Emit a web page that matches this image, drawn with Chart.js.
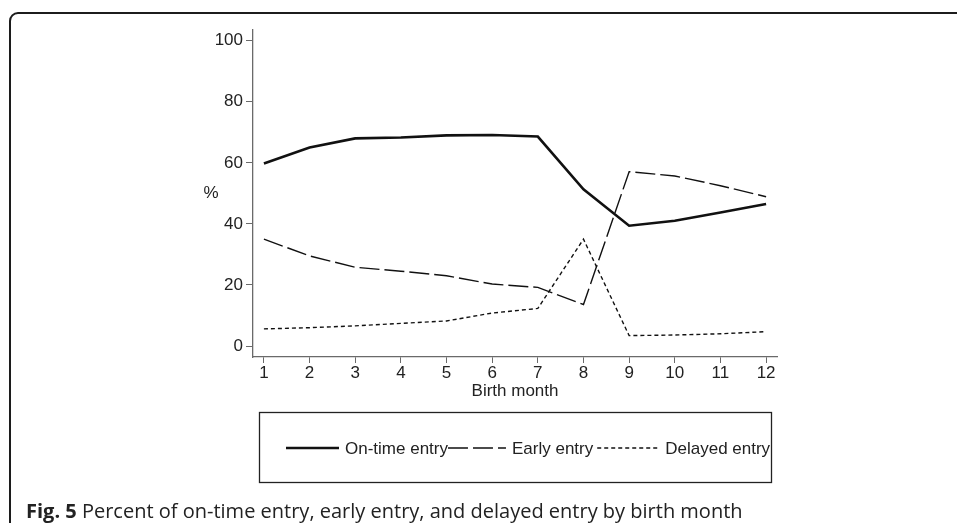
<!DOCTYPE html>
<html>
<head>
<meta charset="utf-8">
<script src="https://cdn.jsdelivr.net/npm/chart.js@4.4.1/dist/chart.umd.min.js"></script>
<style>
  html, body { margin: 0; padding: 0; background: #fff; }
  #wrap { position: relative; width: 957px; height: 523px; overflow: hidden; }
  #frame {
    position: absolute; left: 9px; top: 12px; width: 980px; height: 600px;
    border: 2px solid #1c1c1c; border-top-left-radius: 9px; box-sizing: border-box;
  }
  #holder { position: absolute; left: 0; top: 0; width: 957px; height: 523px; }
  #caption {
    position: absolute; left: 26px; top: 497px; margin: 0; line-height: 27px;
    font-family: "Open Sans", sans-serif; font-size: 20px; color: #222; white-space: nowrap;
  }
  #caption b { font-weight: 700; }
</style>
</head>
<body>
<div id="wrap">
  <div id="frame"></div>
  <div id="holder"><canvas id="fig5"></canvas></div>
  <p id="caption"><b>Fig. 5</b> Percent of on-time entry, early entry, and delayed entry by birth month</p>
</div>
<script>
// birth month on x, percent on y
const months = [1, 2, 3, 4, 5, 6, 7, 8, 9, 10, 11, 12];
const onTime = [59.8, 65.0, 68.0, 68.3, 69.0, 69.1, 68.6, 51.3, 39.4, 41.0, 43.7, 46.5];
const early = [35.0, 29.5, 25.8, 24.5, 23.0, 20.3, 19.2, 13.6, 57.1, 55.7, 52.5, 48.9];
const delayed = [5.6, 6.0, 6.6, 7.4, 8.2, 10.8, 12.3, 35.0, 3.4, 3.6, 4.0, 4.7];
const yTicks = [0, 20, 40, 60, 80, 100];
const seriesNames = ['On-time entry', 'Early entry', 'Delayed entry'];

const pts = arr => arr.map((v, i) => ({ x: months[i], y: v }));
const ink = '#111';
const axisGray = '#6a6a6a';
const tickFont = { family: 'Liberation Sans, Arial, sans-serif', size: 17 };

// legend in a box under the plot, plus the "%" axis label
const boxLegend = {
  id: 'boxLegend',
  afterDraw(chart) {
    const ctx = chart.ctx;
    const area = chart.chartArea;
    ctx.save();
    // y axis label
    ctx.font = '17px Liberation Sans, Arial, sans-serif';
    ctx.fillStyle = '#222';
    ctx.textAlign = 'center';
    ctx.textBaseline = 'middle';
    ctx.fillText('%', 211, (area.top + area.bottom) / 2);

    ctx.strokeStyle = '#222';
    ctx.lineWidth = 1.3;
    ctx.strokeRect(259.5, 412.5, 512, 70);

    const lineLens = [53, 58, 62];
    let x = 286;
    const y = 448;
    chart.data.datasets.forEach((ds, i) => {
      ctx.beginPath();
      ctx.setLineDash(ds.borderDash || []);
      ctx.lineWidth = ds.borderWidth;
      ctx.strokeStyle = ds.borderColor;
      ctx.moveTo(x, y);
      ctx.lineTo(x + lineLens[i], y);
      ctx.stroke();
      ctx.setLineDash([]);
      x += lineLens[i] + 6;
      ctx.textAlign = 'left';
      ctx.fillStyle = '#222';
      ctx.fillText(ds.label, x, y + 1);
      x += ctx.measureText(ds.label).width + (i === 0 ? 0 : 4);
    });
    ctx.restore();
  }
};

new Chart(document.getElementById('fig5'), {
  type: 'line',
  data: {
    datasets: [
      { label: seriesNames[0], data: pts(onTime), borderColor: ink, borderWidth: 2.6, borderDash: [] },
      { label: seriesNames[1], data: pts(early), borderColor: ink, borderWidth: 1.4, borderDash: [20, 5] },
      { label: seriesNames[2], data: pts(delayed), borderColor: ink, borderWidth: 1.4, borderDash: [4, 3] }
    ]
  },
  options: {
    responsive: true,
    maintainAspectRatio: false,
    animation: false,
    layout: { padding: { left: 180, top: 30, right: 180, bottom: 121 } },
    elements: { point: { radius: 0 }, line: { tension: 0 } },
    plugins: { legend: { display: false }, tooltip: { enabled: false } },
    scales: {
      x: {
        type: 'linear',
        min: 0.761,
        max: 12.239,
        afterBuildTicks: s => { s.ticks = months.map(v => ({ value: v })); },
        afterFit: s => { s.height = 45; },
        grid: { drawOnChartArea: false, drawTicks: true, tickLength: 6, color: axisGray },
        border: { color: axisGray, width: 1.3 },
        ticks: { font: tickFont, color: '#222', padding: 0, maxRotation: 0 },
        title: { display: true, text: 'Birth month', font: tickFont, color: '#222', padding: 0 }
      },
      y: {
        min: -3.6,
        max: 103.5,
        afterBuildTicks: s => { s.ticks = yTicks.map(v => ({ value: v })); },
        afterFit: s => { s.width = 73; },
        grid: { drawOnChartArea: false, drawTicks: true, tickLength: 7, color: axisGray },
        border: { color: axisGray, width: 1.3 },
        ticks: { font: tickFont, color: '#222', padding: 3 }
      }
    }
  },
  plugins: [boxLegend]
});
</script>
</body>
</html>
